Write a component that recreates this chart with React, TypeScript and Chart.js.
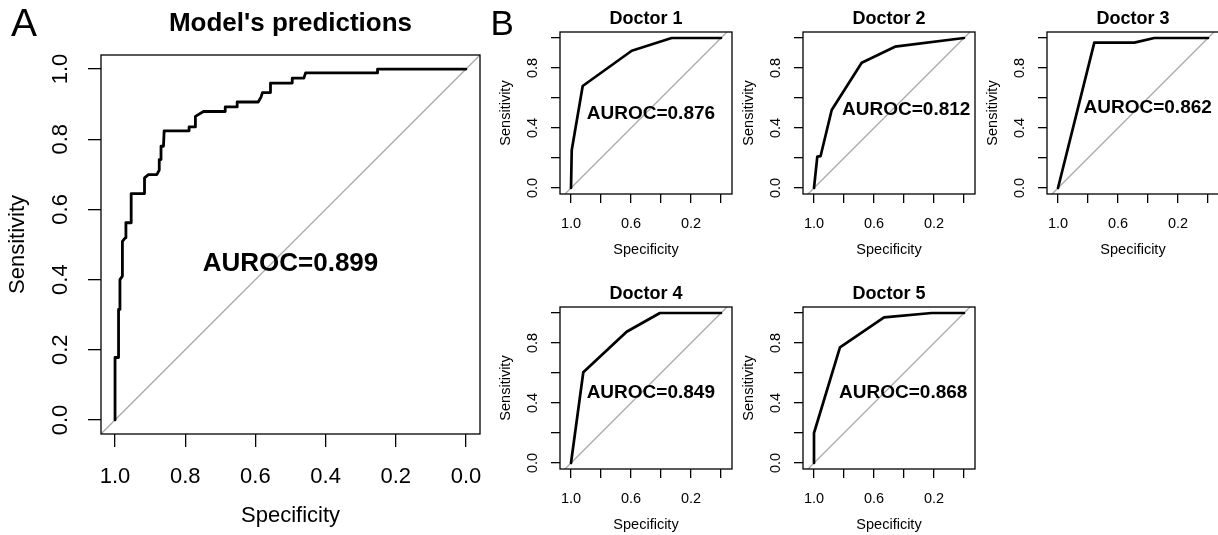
import React, { useEffect, useRef } from "react";
import { Chart, registerables } from "chart.js";

Chart.register(...registerables);

const FONT = "'Liberation Sans', Arial, Helvetica, sans-serif";

// ---------- data ----------
const panelTitles = ["Model's predictions", "Doctor 1", "Doctor 2", "Doctor 3", "Doctor 4", "Doctor 5"];
const aucValues = [0.899, 0.876, 0.812, 0.862, 0.849, 0.868];
// where each AUROC label is centred (specificity, sensitivity)
const aucLabelSpec = [0.5, 0.467, 0.385, 0.402, 0.468, 0.405];
const aucLabelSens = [0.45, 0.498, 0.527, 0.542, 0.475, 0.475];

const modelSpec = [1.0, 1.0, 0.99, 0.99, 0.986, 0.986, 0.979, 0.979, 0.971, 0.969, 0.954, 0.954, 0.916, 0.916, 0.905, 0.881, 0.874, 0.874, 0.869, 0.869, 0.862, 0.86, 0.789, 0.789, 0.771, 0.771, 0.748, 0.686, 0.686, 0.652, 0.652, 0.592, 0.584, 0.58, 0.557, 0.557, 0.495, 0.495, 0.462, 0.457, 0.252, 0.252, 0.0];
const modelSens = [0, 0.178, 0.178, 0.315, 0.315, 0.4, 0.41, 0.509, 0.519, 0.562, 0.562, 0.645, 0.645, 0.69, 0.699, 0.699, 0.712, 0.742, 0.742, 0.78, 0.78, 0.824, 0.824, 0.835, 0.835, 0.865, 0.879, 0.879, 0.892, 0.892, 0.906, 0.906, 0.92, 0.933, 0.933, 0.96, 0.96, 0.974, 0.974, 0.989, 0.989, 1.0, 1.0];

const doctor1Spec = [1.0, 0.995, 0.922, 0.595, 0.329, 0.0];
const doctor1Sens = [0.0, 0.253, 0.68, 0.915, 1.0, 1.0];

const doctor2Spec = [1.0, 0.978, 0.956, 0.882, 0.682, 0.46, 0.0];
const doctor2Sens = [0.0, 0.209, 0.213, 0.52, 0.835, 0.942, 1.0];

const doctor3Spec = [1.0, 0.758, 0.491, 0.358, 0.0];
const doctor3Sens = [0.0, 0.969, 0.969, 1.0, 1.0];

const doctor4Spec = [1.0, 0.918, 0.629, 0.407, 0.0];
const doctor4Sens = [0.0, 0.605, 0.875, 1.0, 1.0];

const doctor5Spec = [1.0, 1.0, 0.827, 0.533, 0.215, 0.0];
const doctor5Sens = [0.0, 0.2, 0.771, 0.971, 1.0, 1.0];

// chance (identity) line, extended past the plot box
const diagSpec = [1.2, -0.2];
const diagSens = [-0.2, 1.2];

const tickValues = [0, 0.2, 0.4, 0.6, 0.8, 1.0];
const bigXLabels = ["1.0", "0.8", "0.6", "0.4", "0.2", "0.0"];
const bigYLabels = ["0.0", "0.2", "0.4", "0.6", "0.8", "1.0"];
const smallXLabels = ["1.0", "0.6", "0.2"];
const smallYLabels = ["0.0", "0.4", "0.8"];

// ---------- layout ----------
const bigLayout = {
  w: 510, h: 535, padTop: 55, padRight: 30, yAxisW: 101, xAxisH: 101,
  tickFont: 22, labFont: 22, mainFont: 26, aucFont: 26, tl: 13,
  xTickPad: 17, yTickPad: 12, xTitlePad: 6, yTitlePad: 5, titleGap: 30.7,
  rocWidth: 2.8, xLabels: bigXLabels, yLabels: bigYLabels,
};
const smallLayout = {
  w: 250, h: 270, padTop: 32, padRight: 5, yAxisW: 73, xAxisH: 76,
  tickFont: 14.5, labFont: 14.5, mainFont: 18, aucFont: 19, tl: 9,
  xTickPad: 12, yTickPad: 8, xTitlePad: 11.4, yTitlePad: 10.5, titleGap: 13.4,
  rocWidth: 2.7, xLabels: smallXLabels, yLabels: smallYLabels,
};

const panels = [
  { idx: 0, spec: modelSpec, sens: modelSens, L: bigLayout, left: 0, top: 0, letter: { text: "A", x: 11, y: 36, size: 39 } },
  { idx: 1, spec: doctor1Spec, sens: doctor1Sens, L: smallLayout, left: 487, top: 0, letter: { text: "B", x: 3.5, y: 35, size: 35 } },
  { idx: 2, spec: doctor2Spec, sens: doctor2Sens, L: smallLayout, left: 730, top: 0, letter: null },
  { idx: 3, spec: doctor3Spec, sens: doctor3Sens, L: smallLayout, left: 974, top: 0, letter: null },
  { idx: 4, spec: doctor4Spec, sens: doctor4Sens, L: smallLayout, left: 487, top: 275, letter: null },
  { idx: 5, spec: doctor5Spec, sens: doctor5Sens, L: smallLayout, left: 730, top: 275, letter: null },
];

function makeTextPlugin(p: any) {
  return {
    id: "rText",
    afterDraw(chart: any) {
      const { ctx, chartArea: ca, scales } = chart;
      const L = p.L;
      ctx.save();
      ctx.strokeStyle = "#000";
      ctx.lineWidth = 1.3;
      ctx.strokeRect(ca.left, ca.top, ca.right - ca.left, ca.bottom - ca.top);
      ctx.fillStyle = "#000";
      ctx.textAlign = "center";
      ctx.textBaseline = "middle";
      ctx.font = `bold ${L.mainFont}px ${FONT}`;
      ctx.fillText(panelTitles[p.idx], (ca.left + ca.right) / 2, ca.top - L.titleGap);
      ctx.font = `bold ${L.aucFont}px ${FONT}`;
      ctx.fillText(
        `AUROC=${aucValues[p.idx].toFixed(3)}`,
        scales.x.getPixelForValue(aucLabelSpec[p.idx]),
        scales.y.getPixelForValue(aucLabelSens[p.idx]) + 0.05 * L.aucFont
      );
      if (p.letter) {
        ctx.textAlign = "left";
        ctx.textBaseline = "alphabetic";
        ctx.font = `${p.letter.size}px ${FONT}`;
        ctx.fillText(p.letter.text, p.letter.x, p.letter.y);
      }
      ctx.restore();
    },
  };
}

function buildConfig(p: any): any {
  const L = p.L;
  const boxW = L.w - L.yAxisW - L.padRight;
  const boxH = L.h - L.padTop - L.xAxisH;
  const yMin = -0.04, yMax = 1.04;
  const half = ((yMax - yMin) * boxW) / boxH / 2;
  const fmt = (shown: string[]) => (v: any) => {
    const s = Number(v).toFixed(1);
    return shown.includes(s) ? s : "";
  };
  const setTicks = (s: any) => {
    s.ticks = tickValues.map((v) => ({ value: v }));
  };
  const grid = { display: true, drawOnChartArea: false, drawTicks: true, tickLength: L.tl, color: "#000", lineWidth: 1.3 };
  return {
    type: "scatter",
    data: {
      datasets: [
        {
          data: p.spec.map((x: number, i: number) => ({ x, y: p.sens[i] })),
          showLine: true, borderColor: "#000", backgroundColor: "#000", borderWidth: L.rocWidth,
          pointRadius: 0, borderJoinStyle: "round", borderCapStyle: "round", tension: 0,
        },
        {
          data: diagSpec.map((x, i) => ({ x, y: diagSens[i] })),
          showLine: true, borderColor: "#A9A9A9", borderWidth: 1.3, pointRadius: 0, clip: 0,
        },
      ],
    },
    options: {
      animation: false, responsive: false, devicePixelRatio: 1, events: [],
      layout: { padding: { top: L.padTop, right: L.padRight, left: 0, bottom: 0 } },
      plugins: { legend: { display: false }, tooltip: { enabled: false }, title: { display: false } },
      scales: {
        x: {
          type: "linear", reverse: true, min: 0.5 - half, max: 0.5 + half,
          afterBuildTicks: setTicks,
          afterFit: (s: any) => { s.height = L.xAxisH; s.paddingLeft = 0; s.paddingRight = 0; },
          grid, border: { display: false },
          ticks: { autoSkip: false, color: "#000", padding: L.xTickPad, maxRotation: 0, minRotation: 0, font: { family: FONT, size: L.tickFont }, callback: fmt(L.xLabels) },
          title: { display: true, text: "Specificity", color: "#000", font: { family: FONT, size: L.labFont }, padding: { top: 0, bottom: L.xTitlePad } },
        },
        y: {
          type: "linear", min: yMin, max: yMax,
          afterBuildTicks: setTicks,
          afterFit: (s: any) => { s.width = L.yAxisW; s.paddingTop = 0; s.paddingBottom = 0; },
          grid, border: { display: false },
          ticks: { autoSkip: false, color: "#000", padding: L.yTickPad, minRotation: 90, maxRotation: 90, crossAlign: "center", font: { family: FONT, size: L.tickFont }, callback: fmt(L.yLabels) },
          title: { display: true, text: "Sensitivity", color: "#000", font: { family: FONT, size: L.labFont }, padding: { top: L.yTitlePad, bottom: 0 } },
        },
      },
    },
    plugins: [makeTextPlugin(p)],
  };
}

function Panel({ p }: { p: any }) {
  const ref = useRef<HTMLCanvasElement>(null);
  useEffect(() => {
    const chart = new Chart(ref.current as HTMLCanvasElement, buildConfig(p));
    return () => chart.destroy();
  }, []);
  return (
    <canvas
      ref={ref}
      width={p.L.w}
      height={p.L.h}
      style={{ position: "absolute", left: p.left, top: p.top, width: p.L.w, height: p.L.h }}
    />
  );
}

export default function App() {
  useEffect(() => {
    document.body.style.margin = "0";
  }, []);
  return (
    <div style={{ position: "relative", width: 1218, height: 535, overflow: "hidden", background: "#fff" }}>
      {panels.map((p) => (
        <Panel key={p.idx} p={p} />
      ))}
    </div>
  );
}
